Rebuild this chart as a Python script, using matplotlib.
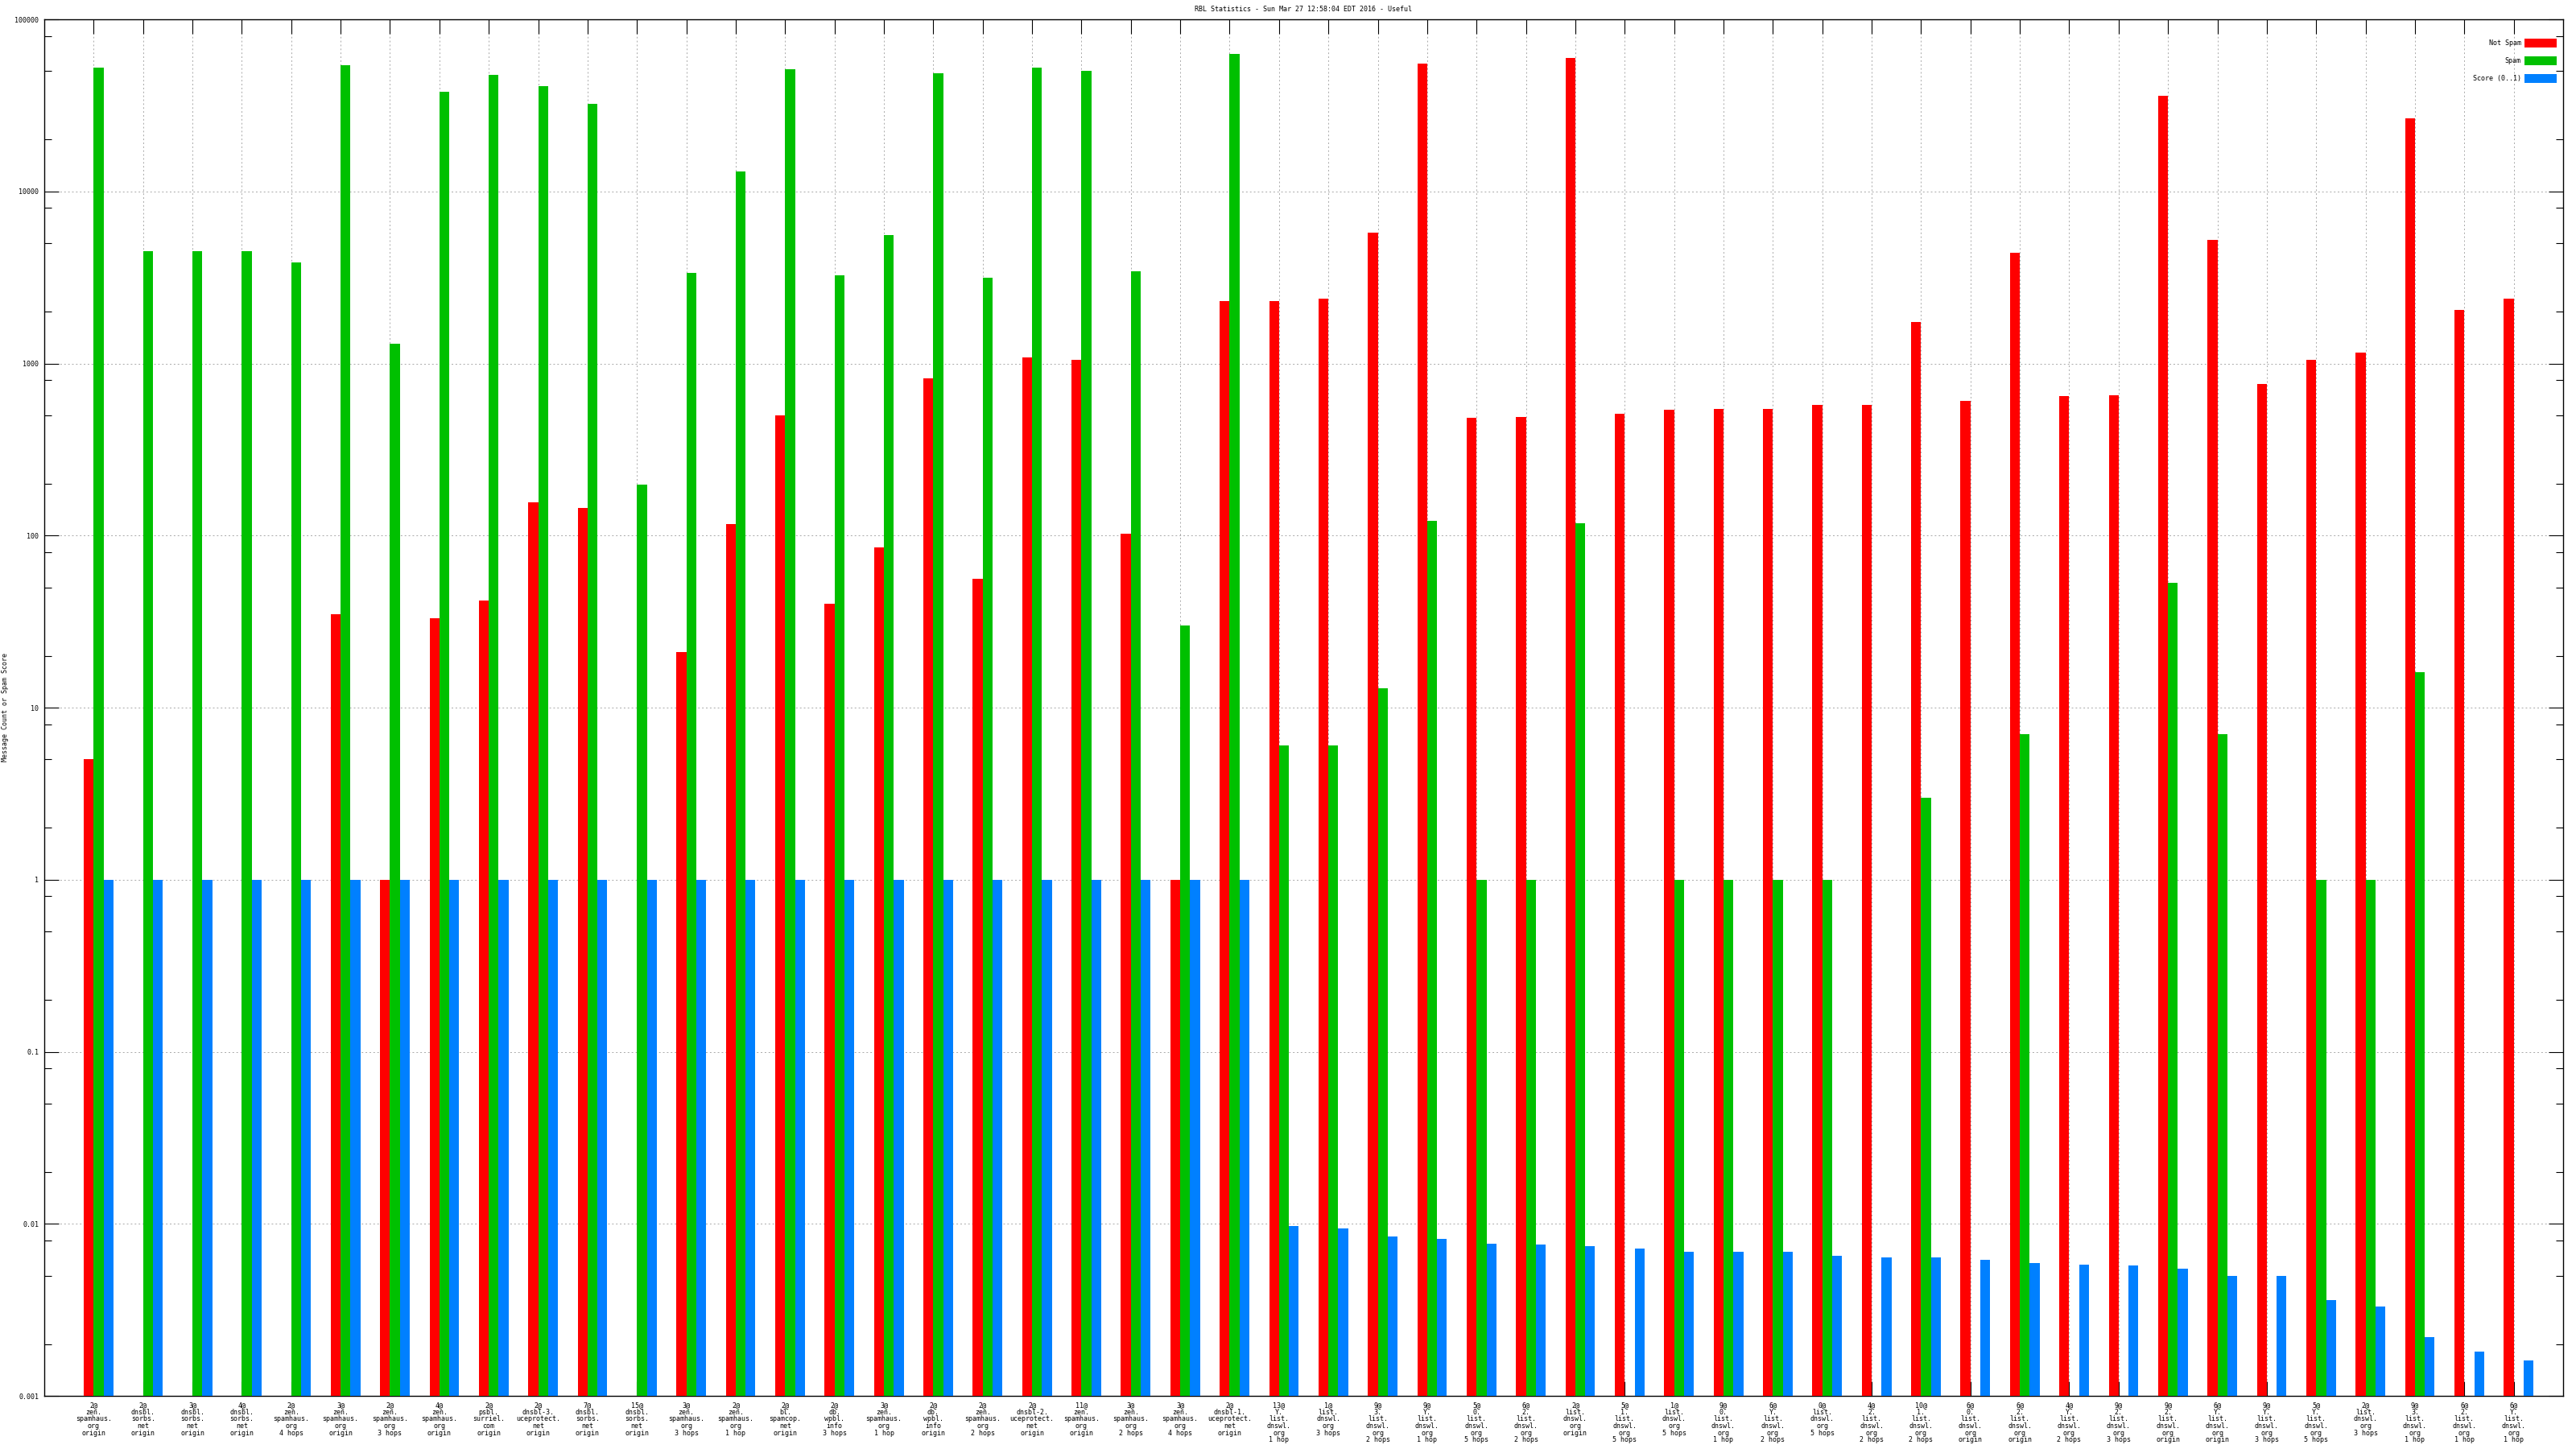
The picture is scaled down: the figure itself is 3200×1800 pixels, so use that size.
import matplotlib
matplotlib.use('Agg')
import matplotlib.pyplot as plt
import matplotlib.ticker as mticker
import numpy as np

nan = np.nan

# x labels (one per RBL / hop)
labels = [
    '2@\nzen.\nspamhaus.\norg\norigin',
    '2@\ndnsbl.\nsorbs.\nnet\norigin',
    '3@\ndnsbl.\nsorbs.\nnet\norigin',
    '4@\ndnsbl.\nsorbs.\nnet\norigin',
    '2@\nzen.\nspamhaus.\norg\n4 hops',
    '3@\nzen.\nspamhaus.\norg\norigin',
    '2@\nzen.\nspamhaus.\norg\n3 hops',
    '4@\nzen.\nspamhaus.\norg\norigin',
    '2@\npsbl.\nsurriel.\ncom\norigin',
    '2@\ndnsbl-3.\nuceprotect.\nnet\norigin',
    '7@\ndnsbl.\nsorbs.\nnet\norigin',
    '15@\ndnsbl.\nsorbs.\nnet\norigin',
    '3@\nzen.\nspamhaus.\norg\n3 hops',
    '2@\nzen.\nspamhaus.\norg\n1 hop',
    '2@\nbl.\nspamcop.\nnet\norigin',
    '2@\ndb.\nwpbl.\ninfo\n3 hops',
    '3@\nzen.\nspamhaus.\norg\n1 hop',
    '2@\ndb.\nwpbl.\ninfo\norigin',
    '2@\nzen.\nspamhaus.\norg\n2 hops',
    '2@\ndnsbl-2.\nuceprotect.\nnet\norigin',
    '11@\nzen.\nspamhaus.\norg\norigin',
    '3@\nzen.\nspamhaus.\norg\n2 hops',
    '3@\nzen.\nspamhaus.\norg\n4 hops',
    '2@\ndnsbl-1.\nuceprotect.\nnet\norigin',
    '13@\nY.\nlist.\ndnswl.\norg\n1 hop',
    '1@\nlist.\ndnswl.\norg\n3 hops',
    '9@\n3.\nlist.\ndnswl.\norg\n2 hops',
    '9@\nY.\nlist.\ndnswl.\norg\n1 hop',
    '5@\n0.\nlist.\ndnswl.\norg\n5 hops',
    '6@\n2.\nlist.\ndnswl.\norg\n2 hops',
    '2@\nlist.\ndnswl.\norg\norigin',
    '5@\n1.\nlist.\ndnswl.\norg\n5 hops',
    '1@\nlist.\ndnswl.\norg\n5 hops',
    '9@\n0.\nlist.\ndnswl.\norg\n1 hop',
    '6@\nY.\nlist.\ndnswl.\norg\n2 hops',
    '0@\nlist.\ndnswl.\norg\n5 hops',
    '4@\n2.\nlist.\ndnswl.\norg\n2 hops',
    '10@\n1.\nlist.\ndnswl.\norg\n2 hops',
    '6@\n0.\nlist.\ndnswl.\norg\norigin',
    '6@\n2.\nlist.\ndnswl.\norg\norigin',
    '4@\nY.\nlist.\ndnswl.\norg\n2 hops',
    '9@\n2.\nlist.\ndnswl.\norg\n3 hops',
    '9@\n2.\nlist.\ndnswl.\norg\norigin',
    '6@\nY.\nlist.\ndnswl.\norg\norigin',
    '9@\nY.\nlist.\ndnswl.\norg\n3 hops',
    '5@\nY.\nlist.\ndnswl.\norg\n5 hops',
    '2@\nlist.\ndnswl.\norg\n3 hops',
    '9@\n3.\nlist.\ndnswl.\norg\n1 hop',
    '6@\n2.\nlist.\ndnswl.\norg\n1 hop',
    '6@\nY.\nlist.\ndnswl.\norg\n1 hop',
]

not_spam = [5, nan, nan, nan, nan, 35, 1, 33, 42, 156,
            145, nan, 21, 117, 499, 40, 85, 822, 56, 1087,
            1047, 102, 1, 2294, 2294, 2383, 5765, 55500, 484, 486,
            59400, 511, 538, 542, 542, 576, 576, 1735, 608, 4395,
            645, 655, 35800, 5225, 762, 1047, 1154, 26700, 2049, 2383]

spam = [52240, 4490, 4490, 4490, 3863, 53850, 1303, 38060, 47350, 41040,
        32230, 197, 3348, 13020, 51440, 3245, 5550, 48450, 3150, 52620,
        49930, 3422, 30, 62640, 6, 6, 13, 122, 1, 1,
        118, nan, 1, 1, 1, 1, nan, 3, nan, 7,
        nan, nan, 53, 7, nan, 1, 1, 16, nan, nan]

score = [1] * 24 + [0.0097, 0.0094, 0.0084, 0.0082, 0.0077, 0.0076, 0.0074,
                    0.0072, 0.0069, 0.0069, 0.0069, 0.0065, 0.0064, 0.0064,
                    0.0062, 0.0059, 0.0058, 0.0057, 0.0055, 0.0050, 0.0050,
                    0.0036, 0.0033, 0.0022, 0.0018, 0.0016]

ytick_vals = [0.001, 0.01, 0.1, 1, 10, 100, 1000, 10000, 100000]
ytick_text = ['0.001', '0.01', '0.1', '1', '10', '100', '1000', '10000', '100000']

title = 'RBL Statistics - Sun Mar 27 12:58:04 EDT 2016 - Useful'

plt.rcParams['font.family'] = 'DejaVu Sans Mono'
plt.rcParams['font.size'] = 6

W, H = 3200, 1800
fig = plt.figure(figsize=(W / 100, H / 100), dpi=100)
x0, x1, y0, y1 = 55, 3184, 24, 1734
ax = fig.add_axes([x0 / W, 1 - y1 / H, (x1 - x0) / W, (y1 - y0) / H])

ymin, ymax = 0.001, 100000
x = np.arange(len(labels))
bw = 0.2

ax.set_yscale('log')
ax.bar(x - 0.1, np.array(not_spam) - ymin, bw, bottom=ymin, color='#ff0000', label='Not Spam', zorder=3)
ax.bar(x + 0.1, np.array(spam) - ymin, bw, bottom=ymin, color='#00c000', label='Spam', zorder=3)
ax.bar(x + 0.3, np.array(score) - ymin, bw, bottom=ymin, color='#0080ff', label='Score (0..1)', zorder=3)

ax.set_xlim(-1, len(labels))
ax.set_ylim(ymin, ymax)

ax.yaxis.set_major_locator(mticker.FixedLocator(ytick_vals))
ax.yaxis.set_major_formatter(mticker.FixedFormatter(ytick_text))
ax.yaxis.set_minor_locator(mticker.LogLocator(base=10, subs=[2, 5, 8], numticks=20))
ax.yaxis.set_minor_formatter(mticker.NullFormatter())

ax.set_xticks(x)
ax.set_xticklabels(labels, linespacing=0.95)

ax.tick_params(axis='both', which='major', direction='in', length=13, width=0.8,
               top=True, right=True, labelsize=6, colors='black')
ax.tick_params(axis='y', which='minor', direction='in', length=6.5, width=0.8, right=True)
ax.tick_params(axis='x', which='major', pad=5)
ax.tick_params(axis='y', which='major', pad=5)

ax.set_axisbelow(True)
ax.grid(True, which='major', axis='both', color='#a8a8a8', linestyle=(0, (2, 3)), linewidth=0.7)

for s in ax.spines.values():
    s.set_linewidth(1.0)
    s.set_color('black')

# y axis title sits at the very left edge of the image
fig.text(7 / W, 1 - (y0 + y1) / 2 / H, 'Message Count or Spam Score', rotation=90,
         ha='center', va='center', fontsize=6)

fig.text((x0 + x1) / 2 / W, 1 - 12 / H, title, ha='center', va='center', fontsize=6)

ax.legend(loc='upper right', bbox_to_anchor=(3176 / W, 1 - 48 / H), bbox_transform=fig.transFigure,
          frameon=False, markerfirst=False, fontsize=6, handlelength=4.8, handleheight=1.6,
          labelspacing=1.35, handletextpad=0.5, borderpad=0, borderaxespad=0)

plt.savefig('out.png', dpi=100)
